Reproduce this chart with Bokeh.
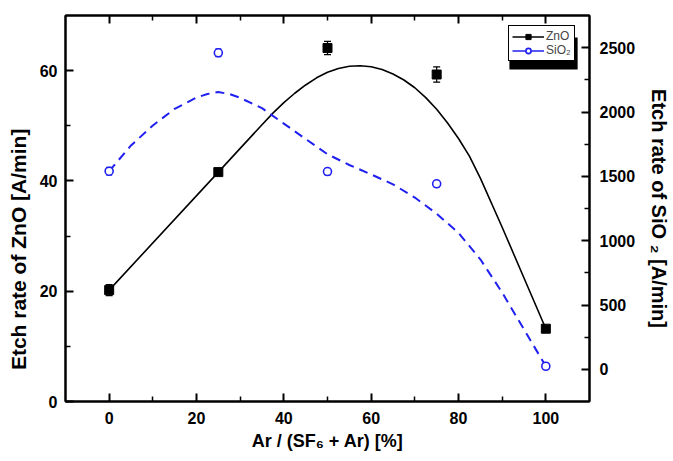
from bokeh.plotting import figure
from bokeh.models import (Range1d, LinearAxis, FixedTicker, Whisker, TeeHead,
                          ColumnDataSource, Legend, LegendItem, BoxAnnotation)
from bokeh.embed import file_html
from bokeh.resources import INLINE

# Ar fraction in the SF6/Ar gas mixture [%]
ar_fraction = [0, 25, 50, 75, 100]

# ZnO etch rate [A/min] (left axis) with error bars
zno_rate = [20.2, 41.6, 64.1, 59.3, 13.2]
zno_err = [1.0, 0.5, 1.2, 1.4, 0.5]

# SiO2 etch rate [A/min] (right axis) with error bars
sio2_rate = [1540, 2460, 1537, 1442, 24]
sio2_err = [30, 30, 25, 25, 0]

# smoothed trend curves
zno_fit_x = [0, 25, 30, 35, 37.5, 40, 42.5, 45, 47.5, 50, 52.5, 55, 57.5, 60, 62.5,
             65, 67.5, 70, 72.5, 75, 77.5, 80, 82.5, 85, 90, 95, 100]
zno_fit_y = [20.2, 41.6, 45.9, 50.2, 52.3, 54.2, 55.9, 57.4, 58.7, 59.7, 60.4, 60.8,
             60.9, 60.7, 60.2, 59.4, 58.3, 56.9, 55.1, 53.0, 50.5, 47.7, 44.5, 40.5,
             31.6, 22.4, 13.2]
sio2_fit_x = [0, 5, 10, 15, 20, 22.5, 25, 27.5, 30, 35, 40, 45, 50, 55, 60, 65, 70,
              75, 80, 85, 90, 95, 100]
sio2_fit_y = [1540, 1740, 1895, 2025, 2112, 2140, 2155, 2140, 2110, 2030, 1910, 1790,
              1672, 1588, 1515, 1438, 1335, 1210, 1060, 855, 597, 310, 24]

# axis ticks
x_ticks = [0, 20, 40, 60, 80, 100]
x_minor = [10, 30, 50, 70, 90]
zno_ticks = [0, 20, 40, 60]
zno_minor = [10, 30, 50]
sio2_ticks = [0, 500, 1000, 1500, 2000, 2500]
sio2_minor = [250, 750, 1250, 1750, 2250]

FONT = "Liberation Sans"
BLUE = "#2020f0"
NBSP = "\u00a0"
NAN = float("nan")

W, H = 673, 461
BL, BR, BT, BB = 65, 78, 15, 60
X0, X1 = -10, 110
Y0, Y1 = 0, 70
fw = W - BL - BR
fh = H - BT - BB


def px_x(px):
    return X0 + (px - BL) * (X1 - X0) / fw


def px_y(py):
    return Y0 + (H - BB - py) * (Y1 - Y0) / fh


p = figure(width=W, height=H, x_range=Range1d(X0, X1), y_range=Range1d(Y0, Y1),
           output_backend="svg", toolbar_location=None,
           min_border_left=BL, min_border_right=BR, min_border_top=BT,
           min_border_bottom=BB)
p.extra_y_ranges = {"sio2": Range1d(-250, 2750)}
p.grid.visible = False
p.outline_line_color = "black"
p.outline_line_width = 2
p.background_fill_color = "white"
p.border_fill_color = "white"


def style_axis(ax, standoff=8):
    ax.axis_line_width = 2
    ax.axis_line_color = "black"
    ax.major_tick_in = 8
    ax.major_tick_out = 0
    ax.minor_tick_in = 5
    ax.minor_tick_out = 0
    ax.major_tick_line_width = 2
    ax.minor_tick_line_width = 1.5
    ax.major_label_text_font = FONT
    ax.major_label_text_font_style = "bold"
    ax.major_label_text_font_size = "16px"
    ax.major_label_text_color = "black"
    ax.major_label_standoff = standoff
    ax.axis_label_text_font = FONT
    ax.axis_label_text_font_style = "bold"
    ax.axis_label_text_color = "black"


bottom = p.xaxis[0]
bottom.ticker = FixedTicker(ticks=x_ticks, minor_ticks=x_minor)
bottom.axis_label = "Ar / (SF\u2086 + Ar) [%]"
style_axis(bottom, 10)
bottom.axis_label_text_font_size = "18px"
bottom.axis_label_standoff = 4

# left title sits below the frame centre: pad its upper end with fixed spaces
left = p.yaxis[0]
left.ticker = FixedTicker(ticks=zno_ticks, minor_ticks=zno_minor)
style_axis(left, 8)
left.axis_label = "Etch rate of ZnO  [A/min]" + NBSP * 13
left.axis_label_text_font_size = "21px"
left.axis_label_standoff = 7

right = LinearAxis(y_range_name="sio2",
                   ticker=FixedTicker(ticks=sio2_ticks, minor_ticks=sio2_minor),
                   axis_label="Etch rate of SiO \u2082 [A/min]")
style_axis(right, 10)
right.axis_label_text_font_size = "20px"
right.axis_label_standoff = 10
p.add_layout(right, "right")

# top edge: tick marks only (drawn as unlabelled minor ticks)
top_major = LinearAxis(ticker=FixedTicker(ticks=[], minor_ticks=x_ticks))
top_major.axis_line_width = 2
top_major.minor_tick_in = 8
top_major.minor_tick_out = 0
top_major.minor_tick_line_width = 2
p.add_layout(top_major, "above")
top_minor = LinearAxis(ticker=FixedTicker(ticks=[], minor_ticks=x_minor))
top_minor.axis_line_color = None
top_minor.minor_tick_in = 5
top_minor.minor_tick_out = 0
top_minor.minor_tick_line_width = 1.5
p.add_layout(top_minor, "above")

# trend curves
zno_curve = p.line(zno_fit_x, zno_fit_y, line_color="black", line_width=1.6)
p.line(sio2_fit_x, sio2_fit_y, y_range_name="sio2", line_color=BLUE,
       line_width=2, line_dash="9 6")

# measured points
zno_src = ColumnDataSource(dict(
    x=ar_fraction, y=zno_rate,
    lo=[v - e for v, e in zip(zno_rate, zno_err)],
    hi=[v + e for v, e in zip(zno_rate, zno_err)]))
sio2_src = ColumnDataSource(dict(
    x=ar_fraction, y=sio2_rate,
    lo=[v - e for v, e in zip(sio2_rate, sio2_err)],
    hi=[v + e for v, e in zip(sio2_rate, sio2_err)]))

zno_pts = p.scatter("x", "y", source=zno_src, marker="square", size=9,
                    fill_color="black", line_color="black")
sio2_pts = p.scatter("x", "y", source=sio2_src, y_range_name="sio2",
                     marker="circle", size=8, fill_color="white",
                     line_color=BLUE, line_width=1.6)

p.add_layout(Whisker(source=zno_src, base="x", lower="lo", upper="hi",
                     line_color="black", line_width=1.2,
                     upper_head=TeeHead(size=7, line_color="black", line_width=1.2),
                     lower_head=TeeHead(size=7, line_color="black", line_width=1.2)))
p.add_layout(Whisker(source=sio2_src, base="x", lower="lo", upper="hi",
                     y_range_name="sio2", line_color=BLUE, line_width=1.2,
                     upper_head=TeeHead(size=6, line_color=BLUE, line_width=1.2),
                     lower_head=TeeHead(size=6, line_color=BLUE, line_width=1.2)))

# solid blue key line for the SiO2 legend entry (no visible points of its own)
sio2_key = p.line([NAN, NAN], [NAN, NAN], y_range_name="sio2", line_color=BLUE,
                  line_width=1.6)

# legend box (pixel placement) with a drop shadow behind it
LEG_LEFT, LEG_TOP, LEG_W, LEG_H = 508, 29, 69, 32
SHADOW_DX, SHADOW_DY = 6, 8

p.add_layout(BoxAnnotation(left=px_x(LEG_LEFT + SHADOW_DX),
                           right=px_x(LEG_LEFT + LEG_W + SHADOW_DX),
                           top=px_y(LEG_TOP + SHADOW_DY),
                           bottom=px_y(LEG_TOP + LEG_H + SHADOW_DY),
                           fill_color="black", fill_alpha=1.0, line_color=None))

legend = Legend(items=[LegendItem(label="ZnO", renderers=[zno_curve, zno_pts]),
                       LegendItem(label="SiO\u2082", renderers=[sio2_key, sio2_pts])],
                location=(LEG_LEFT - BL, H - BB - (LEG_TOP + LEG_H)),
                border_line_color="black", border_line_width=1.5,
                border_line_alpha=1.0,
                background_fill_color="white", background_fill_alpha=1.0,
                label_text_font=FONT, label_text_font_size="12px",
                glyph_width=32, glyph_height=13, label_height=13,
                label_standoff=2, padding=3, spacing=0, margin=0)
p.add_layout(legend, "center")

open("out.html", "w").write(file_html(p, INLINE))
